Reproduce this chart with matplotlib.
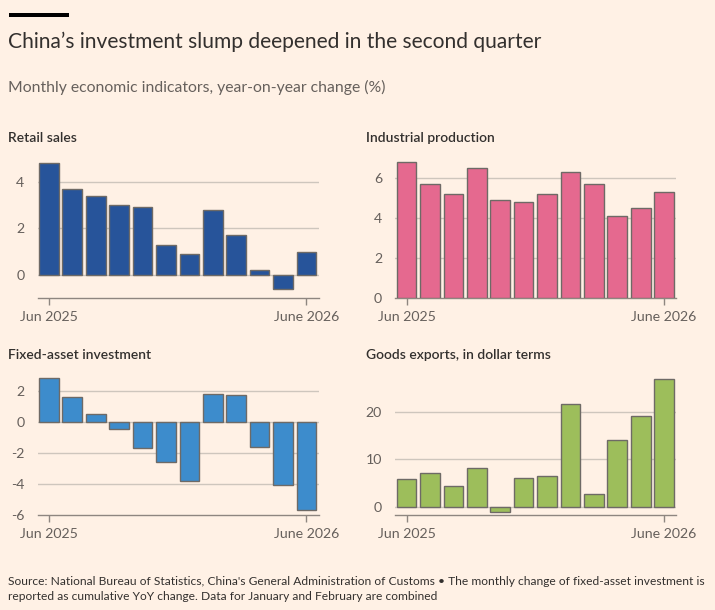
import matplotlib
matplotlib.use("Agg")
import matplotlib.pyplot as plt
from matplotlib.patches import Rectangle

BG = "#FFF1E5"
TXT = "#33302E"
SUB = "#66605C"
GRID = "#CEC6BD"
SPINE = "#8E8680"

months = list(range(12))
tick_labels = ["Jun 2025", "June 2026"]

retail = [4.8, 3.7, 3.4, 3.0, 2.9, 1.3, 0.9, 2.8, 1.7, 0.2, -0.6, 1.0]
industrial = [6.8, 5.7, 5.2, 6.5, 4.9, 4.8, 5.2, 6.3, 5.7, 4.1, 4.5, 5.3]
fixed_asset = [2.8, 1.6, 0.5, -0.5, -1.7, -2.6, -3.8, 1.8, 1.7, -1.6, -4.1, -5.7]
exports = [5.9, 7.1, 4.4, 8.3, -1.2, 6.0, 6.6, 21.8, 2.6, 14.1, 19.3, 27.0]

panels = [
    ("Retail sales", retail, "#27549A", [0, 2, 4], (-1, 5)),
    ("Industrial production", industrial, "#E5698F", [0, 2, 4, 6], (0, 7)),
    ("Fixed-asset investment", fixed_asset, "#3D8CCC", [-6, -4, -2, 0, 2], (-6, 3)),
    ("Goods exports, in dollar terms", exports, "#9DBE5B", [0, 10, 20], (-1.76, 27.9)),
]

plt.rcParams["font.family"] = ["Lato", "DejaVu Sans"]

W, H = 715, 610
fig = plt.figure(figsize=(W / 100, H / 100), dpi=100, facecolor=BG)

lefts = [37.6, 395.3]
bottoms = [298.3, 515.0]
aw, ah = 281.0, 140.0
title_y = [138, 355]

for i, (name, vals, color, yt, yl) in enumerate(panels):
    r, c = divmod(i, 2)
    ax = fig.add_axes([lefts[c] / W, 1 - bottoms[r] / H, aw / W, ah / H])
    ax.set_facecolor(BG)
    ax.set_axisbelow(True)
    ax.bar(months, vals, width=0.84, color=color, edgecolor="#6E6A66", linewidth=1.0, zorder=3)
    ax.set_xlim(-0.48, 11.52)
    ax.set_ylim(*yl)
    ax.set_yticks(yt)
    ax.set_yticklabels([str(v) for v in yt])
    for v in yt:
        if v != yl[0]:
            ax.axhline(v, color=GRID, linewidth=1.0, zorder=1)
    ax.set_xticks([months[0], months[-1]])
    ax.set_xticklabels(tick_labels)
    for s in ["top", "right", "left"]:
        ax.spines[s].set_visible(False)
    ax.spines["bottom"].set_color(SPINE)
    ax.spines["bottom"].set_linewidth(1.0)
    ax.tick_params(axis="y", length=0, pad=9.5, labelsize=10.2, labelcolor=SUB)
    ax.tick_params(axis="x", length=5, width=1, color=SPINE, pad=4.3, labelsize=10.2, labelcolor=SUB)
    fig.text((8 if c == 0 else 366) / W, 1 - title_y[r] / H, name, fontsize=10,
             fontweight="semibold", color=TXT, va="center", ha="left")

fig.patches.append(Rectangle((9 / W, 1 - 16.7 / H), 60 / W, 4 / H, transform=fig.transFigure,
                             facecolor="black", edgecolor="none"))
fig.text(8 / W, 1 - 42 / H, "China\u2019s investment slump deepened in the second quarter",
         fontsize=15.1, color=TXT, va="center", ha="left")
fig.text(8 / W, 1 - 87 / H, "Monthly economic indicators, year-on-year change (%)",
         fontsize=11.3, color=SUB, va="center", ha="left")
fig.text(8 / W, 1 - 581.5 / H,
         "Source: National Bureau of Statistics, China's General Administration of Customs \u2022 The monthly change of fixed-asset investment is",
         fontsize=8.65, color=TXT, va="center", ha="left")
fig.text(8 / W, 1 - 596.5 / H,
         "reported as cumulative YoY change. Data for January and February are combined",
         fontsize=8.65, color=TXT, va="center", ha="left")

fig.savefig("out.png", dpi=100, facecolor=BG)
